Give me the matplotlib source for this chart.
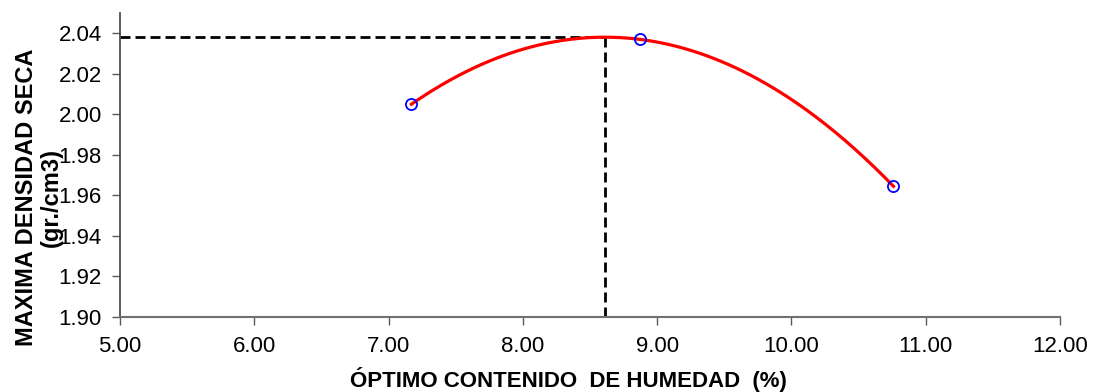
import numpy as np
from matplotlib import pyplot as plt

plt.rcParams['font.family'] = ['Liberation Sans', 'DejaVu Sans']

# puntos del ensayo proctor
humedad = [7.17, 8.87, 10.76]
densidad = [2.005, 2.037, 1.9645]
x_ticks = [5, 6, 7, 8, 9, 10, 11, 12]
y_ticks = [1.90, 1.92, 1.94, 1.96, 1.98, 2.00, 2.02, 2.04]

# curva de ajuste (polinomio de 2do grado)
coef = np.polyfit(humedad, densidad, 2)
xs = np.linspace(min(humedad), max(humedad), 200)
ys = np.polyval(coef, xs)
x_opt = -coef[1] / (2 * coef[0])
y_opt = np.polyval(coef, x_opt)

fig = plt.figure(figsize=(10.93, 3.92), dpi=100)
ax = fig.add_axes([0.1098, 0.1913, 0.86, 0.7755])

ax.plot(xs, ys, color='#ff0000', lw=2.3, zorder=3)
ax.plot(humedad, densidad, 'o', mfc='none', mec='#0000ff', ms=8, mew=1.3, zorder=4)
ax.plot([5, x_opt], [y_opt, y_opt], color='black', lw=2.0, dashes=(3.6, 1.8), zorder=2)
ax.plot([x_opt, x_opt], [1.90, y_opt], color='black', lw=2.0, dashes=(3.6, 1.8), zorder=2)

ax.set_xlim(5, 12)
ax.set_ylim(1.90, 2.05)
ax.set_xticks(x_ticks)
ax.set_yticks(y_ticks)
ax.set_xticklabels(['%.2f' % v for v in x_ticks])
ax.set_yticklabels(['%.2f' % v for v in y_ticks])
ax.tick_params(labelsize=16, length=6, width=1, color='#595959', direction='out')
ax.tick_params(axis='y', pad=7)
ax.tick_params(axis='x', pad=8)
for s in ['top', 'right']:
    ax.spines[s].set_visible(False)
ax.spines['left'].set_color('#404040')
ax.spines['bottom'].set_color('#707070')
ax.spines['left'].set_linewidth(1.2)
ax.spines['bottom'].set_linewidth(1.5)

fig.text(0.52, 0.031, 'ÓPTIMO CONTENIDO  DE HUMEDAD  (%)', ha='center', va='center',
         fontsize=16, fontweight='bold')
fig.text(0.024, 0.497, 'MAXIMA DENSIDAD SECA', rotation=90, ha='center', va='center',
         fontsize=17, fontweight='bold')
fig.text(0.047, 0.497, '(gr./cm3)', rotation=90, ha='center', va='center',
         fontsize=17, fontweight='bold')

fig.savefig('out.png', dpi=100)
